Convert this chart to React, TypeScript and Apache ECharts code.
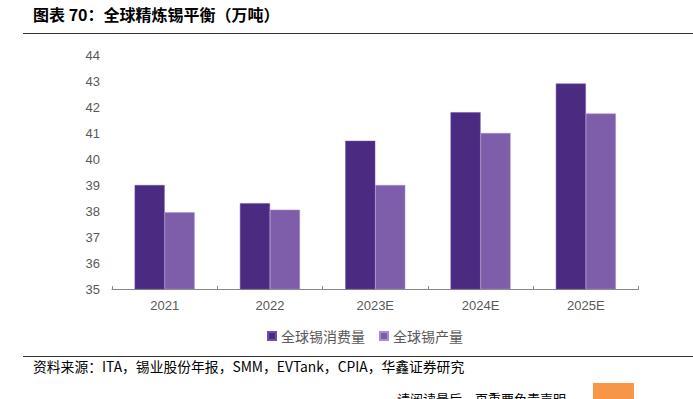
import React, { useEffect, useRef } from "react";
import * as echarts from "echarts";

const categories = ["2021", "2022", "2023E", "2024E", "2025E"];
const consumption = [39.0, 38.3, 40.7, 41.8, 42.9];
const production = [37.95, 38.05, 39.0, 41.0, 41.75];
const seriesNames = ["全球锡消费量", "全球锡产量"];
const titleText = "图表 70：全球精炼锡平衡（万吨）";
const sourceText = "资料来源：ITA，锡业股份年报，SMM，EVTank，CPIA，华鑫证券研究";
const disclaimerText = "请阅读最后一页重要免责声明";

export default function App() {
  const ref = useRef<HTMLDivElement>(null);
  useEffect(() => {
    if (!ref.current) return;
    const chart = echarts.init(ref.current, undefined, { renderer: "svg" });
    chart.setOption({
      animation: false,
      backgroundColor: "#ffffff",
      grid: { left: 112, right: 54.5, top: 55, bottom: 110, containLabel: false },
      legend: {
        data: seriesNames,
        left: 262,
        top: 324,
        itemWidth: 8,
        itemHeight: 8,
        itemGap: 14,
        icon: "rect",
        textStyle: { color: "#595959", fontSize: 14, fontFamily: "Noto Sans CJK SC" },
      },
      xAxis: {
        type: "category",
        data: categories,
        axisLine: { lineStyle: { color: "#888888", width: 1 } },
        axisTick: { show: true, inside: true, length: 3, alignWithLabel: false, lineStyle: { color: "#888888" } },
        axisLabel: { color: "#595959", fontSize: 13, fontFamily: "Liberation Sans", margin: 10 },
      },
      yAxis: {
        type: "value",
        min: 35,
        max: 44,
        interval: 1,
        axisLine: { show: false },
        axisTick: { show: false },
        splitLine: { show: false },
        axisLabel: { color: "#595959", fontSize: 13, fontFamily: "Liberation Sans", margin: 12 },
      },
      series: [
        {
          name: seriesNames[0],
          type: "bar",
          data: consumption,
          barGap: "0%",
          barCategoryGap: "43%",
          itemStyle: { color: "#4b2b82", borderColor: "#6a52a0", borderWidth: 0.5 },
        },
        {
          name: seriesNames[1],
          type: "bar",
          data: production,
          itemStyle: { color: "#7e5eaa", borderColor: "#a48fcb", borderWidth: 0.5 },
        },
      ],
      graphic: [
        {
          type: "text",
          left: 33,
          top: 6,
          style: { text: titleText, fontSize: 16, fontWeight: "bold", fill: "#000000", fontFamily: "Noto Sans CJK SC" },
        },
        { type: "line", shape: { x1: 23, y1: 33.5, x2: 693, y2: 33.5 }, style: { stroke: "#333333", lineWidth: 1 } },
        { type: "line", shape: { x1: 23, y1: 356.5, x2: 693, y2: 356.5 }, style: { stroke: "#333333", lineWidth: 1 } },
        {
          type: "text",
          left: 33,
          top: 359,
          style: { text: sourceText, fontSize: 13.8, fill: "#000000", fontFamily: "Noto Sans CJK SC" },
        },
        {
          type: "text",
          left: 397,
          top: 392,
          style: { text: disclaimerText, fontSize: 13, fill: "#000000", fontFamily: "Noto Sans CJK SC" },
        },
        { type: "rect", shape: { x: 593, y: 383, width: 41, height: 20 }, style: { fill: "#f79646" } },
      ],
    });
    return () => chart.dispose();
  }, []);
  return <div ref={ref} style={{ position: "fixed", left: 0, top: 0, width: 693, height: 399 }} />;
}
